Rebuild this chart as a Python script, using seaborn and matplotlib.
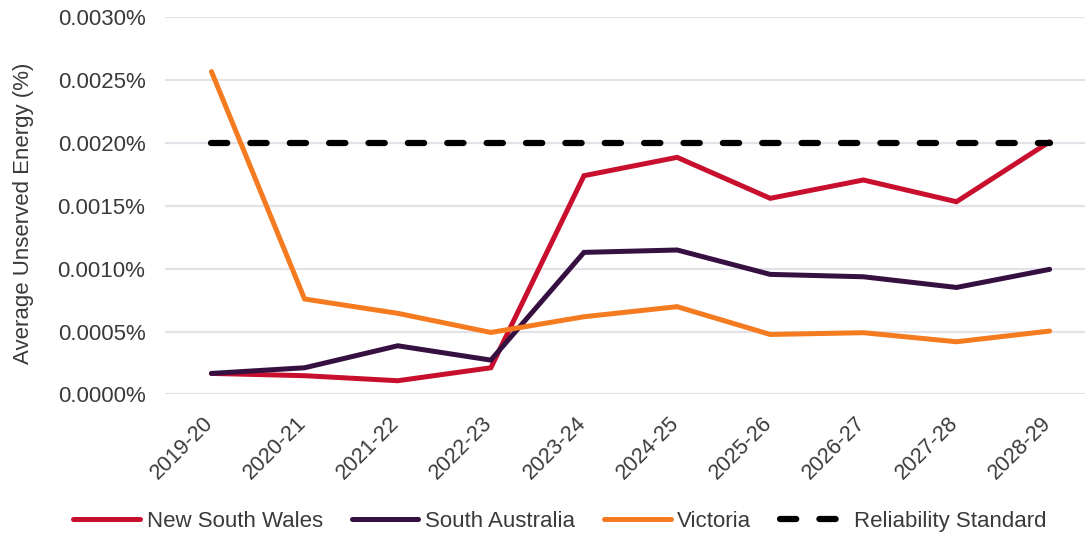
import matplotlib
matplotlib.use("Agg")
import matplotlib.pyplot as plt
import matplotlib.transforms as mtransforms
import seaborn as sns
import pandas as pd
from matplotlib.ticker import FuncFormatter, MultipleLocator

years = ["2019-20", "2020-21", "2021-22", "2022-23", "2023-24",
         "2024-25", "2025-26", "2026-27", "2027-28", "2028-29"]
nsw = [0.000167, 0.000149, 0.000109, 0.000212, 0.00174,
       0.001886, 0.00156, 0.001706, 0.001533, 0.00201]
sa = [0.000167, 0.000212, 0.000387, 0.000273, 0.00113,
      0.001149, 0.000955, 0.000936, 0.000851, 0.000995]
vic = [0.002568, 0.000759, 0.000645, 0.000493, 0.000618,
       0.000698, 0.000477, 0.000491, 0.000419, 0.000504]
standard = [0.002] * len(years)

series_names = ["New South Wales", "South Australia", "Victoria", "Reliability Standard"]
colors = ["#C8102E", "#361040", "#F47B20", "#000000"]

sns.set_theme(style="white")
plt.rcParams["font.family"] = ["Liberation Sans", "DejaVu Sans"]
text_color = "#3a3a3a"

fig = plt.figure(figsize=(10.85, 5.33), dpi=100)
ax = fig.add_axes([0.152, 0.26, 0.848, 0.7075])

x = list(range(len(years)))
for name, vals, col in zip(series_names[:3], [nsw, sa, vic], colors[:3]):
    df = pd.DataFrame({"x": x, "y": vals})
    sns.lineplot(data=df, x="x", y="y", ax=ax, color=col, linewidth=3.6,
                 label=name, solid_capstyle="round", solid_joinstyle="miter")

df = pd.DataFrame({"x": x, "y": standard})
sns.lineplot(data=df, x="x", y="y", ax=ax, color=colors[3], linewidth=4.5,
             label=series_names[3], dashes=False)
std_line = ax.get_lines()[-1]
std_line.set_linestyle((0, (2.6, 3.7)))
std_line.set_dash_capstyle("round")

ax.set_xlim(-0.5, 9.38)
ax.set_ylim(0, 0.003)
ax.yaxis.set_major_locator(MultipleLocator(0.0005))
ax.yaxis.set_major_formatter(FuncFormatter(lambda v, p: f"{v:.4f}%"))
ax.set_xticks(x)
ax.set_xticklabels(years, rotation=45, ha="right", va="bottom", rotation_mode="anchor")
ax.grid(axis="y", color="#e2e2e8", linewidth=1.6)
ax.grid(axis="x", visible=False)
ax.set_axisbelow(True)
for s in ax.spines.values():
    s.set_visible(False)
ax.tick_params(axis="y", length=0, pad=14, labelsize=16, labelcolor=text_color)
ax.tick_params(axis="x", length=0, pad=24, labelsize=15.5, labelcolor=text_color)
offset = mtransforms.ScaledTranslation(6 / 100, 0, fig.dpi_scale_trans)
for lbl in ax.get_xticklabels():
    lbl.set_transform(lbl.get_transform() + offset)
ax.set_xlabel("")
ax.set_ylabel("Average Unserved Energy (%)", fontsize=16, color=text_color)
ax.yaxis.set_label_coords(-0.142, 0.481)

ax.get_legend().remove()
handles, labels = ax.get_legend_handles_labels()
fig.legend(handles, labels, loc="lower center", bbox_to_anchor=(0.516, -0.035),
           ncol=4, frameon=False, fontsize=16, handlelength=3.0,
           handletextpad=0.3, columnspacing=1.3, labelcolor=text_color)

fig.savefig("out.png", dpi=100)
